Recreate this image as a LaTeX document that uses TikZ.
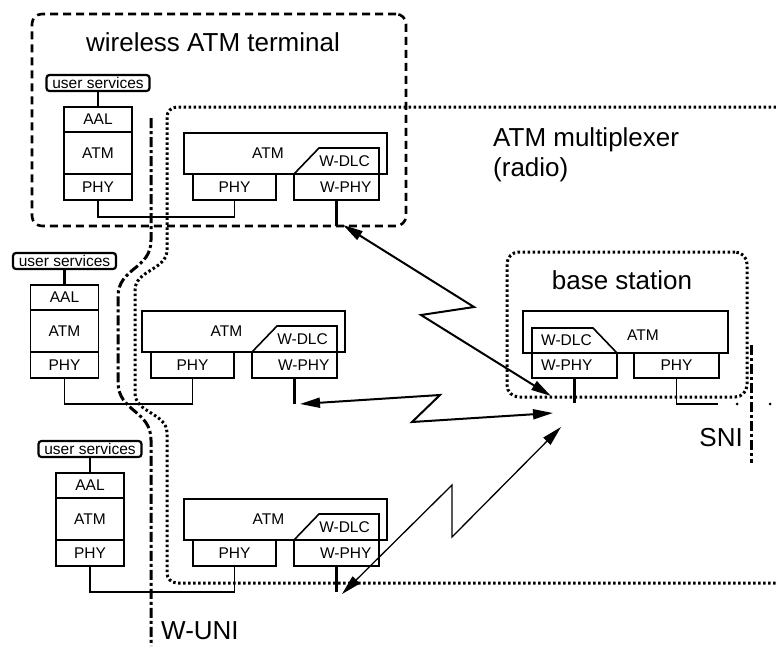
\documentclass[tikz,border=0pt]{standalone}
\usepackage{fontspec}
\setmainfont{Liberation Sans}
\usetikzlibrary{arrows.meta}
\newlength{\du}
\setlength{\du}{20\unitlength}
\tikzset{
  smalltext/.style={font=\fontsize{15.5}{18}\selectfont},
  bigtext/.style={font=\fontsize{26}{30}\selectfont, inner sep=0pt},
  layer/.style={draw=dialinecolor, rectangle, line width=1.6pt, inner sep=0pt, outer sep=0pt, smalltext},
  stackbox/.style={layer, minimum width=3.400000\du},
  wphyright/.style={layer, minimum height=1.300000\du, inner xsep=7.5pt, text width=70pt, align=right},
  wphyleft/.style={layer, minimum height=1.250000\du, inner xsep=9pt, text width=67pt, align=left},
  svcbox/.style={draw=dialinecolor, rounded corners=3pt, line width=2.2pt, minimum width=5.150000\du, minimum height=0.800000\du, inner sep=0pt, outer sep=0pt, smalltext},
  dlcline/.style={draw=dialinecolor, line width=1.6pt},
  conn/.style={draw=dialinecolor, line width=1.3pt},
  svcline/.style={draw=dialinecolor, line width=2.6pt},
  antenna/.style={draw=dialinecolor, line width=3pt},
  radio/.style={draw=dialinecolor, line width=2pt, arrows={Triangle[length=20pt,width=10pt]-Triangle[length=20pt,width=10pt]}},
  radiothin/.style={radio, line width=1.3pt},
  termarea/.style={draw=dialinecolor, rectangle, rounded corners=10pt, line width=2.6pt, dash pattern=on 8pt off 5pt, inner sep=0pt},
  dotline/.style={draw=dialinecolor, line width=3pt, dash pattern=on 2.5pt off 2.5pt},
  bsarea/.style={dotline, rectangle, rounded corners=12pt, inner sep=0pt},
  iface/.style={draw=dialinecolor, line width=3pt, dash pattern=on 10pt off 3pt on 3pt off 3pt},
}
\begin{document}
\begin{tikzpicture}
\pgftransformxscale{1.000000}
\pgftransformyscale{-1.000000}
\definecolor{dialinecolor}{rgb}{0.000000, 0.000000, 0.000000}
\pgfsetstrokecolor{dialinecolor}
\pgfsetbuttcap
\pgfsetmiterjoin
\useasboundingbox (0.000000\du,0.000000\du) rectangle (38.800000\du,32.300000\du);
% terminal
\node[termarea, minimum width=18.700000\du, minimum height=10.600000\du] (terminal) at (10.950000\du,6.000000\du) {};
\node[bigtext] (terminaltitle) at (10.650000\du,2.125000\du) {wireless ATM terminal};
% multiplexer
\draw[dotline, rounded corners=10pt] (38.800000\du,5.350000\du) -- (8.350000\du,5.350000\du) -- (8.350000\du,12.000000\du) .. controls (8.350000\du,13.500000\du) and (6.750000\du,13.500000\du) .. (6.750000\du,15.000000\du) -- (6.750000\du,19.150000\du) .. controls (6.750000\du,20.650000\du) and (8.350000\du,20.650000\du) .. (8.350000\du,22.150000\du) -- (8.350000\du,29.150000\du) -- (38.800000\du,29.150000\du);
\node[bigtext, anchor=north west, align=left] (muxtitle) at (24.650000\du,6.350000\du) {ATM multiplexer\\(radio)};
% W-UNI
\draw[iface] (7.550000\du,5.900000\du) -- (7.550000\du,12.000000\du) .. controls (7.550000\du,13.500000\du) and (5.900000\du,13.350000\du) .. (5.900000\du,14.850000\du) -- (5.900000\du,19.100000\du) .. controls (5.900000\du,20.600000\du) and (7.550000\du,20.500000\du) .. (7.550000\du,22.000000\du) -- (7.550000\du,32.300000\du);
\node[bigtext, anchor=west] (wuni) at (8.050000\du,31.550000\du) {W-UNI};
% stack 1
\node[svcbox] (t1svc) at (4.900000\du,4.150000\du) {user services};
\node[stackbox, minimum height=1.250000\du] (t1aal) at (4.900000\du,5.975000\du) {AAL};
\node[stackbox, minimum height=2.100000\du] (t1atm) at (4.900000\du,7.650000\du) {ATM};
\node[stackbox, minimum height=1.300000\du] (t1phy) at (4.900000\du,9.350000\du) {PHY};
\draw[svcline] (t1svc) -- (t1aal);
\node[layer, minimum width=10.150000\du, minimum height=2.050000\du] (m1atm) at (14.275000\du,7.675000\du) {};
\node[smalltext] (m1atmtext) at (13.400000\du,7.650000\du) {ATM};
\node[layer, minimum width=4.150000\du, minimum height=1.300000\du] (m1phy) at (11.725000\du,9.350000\du) {PHY};
\node[wphyright] (m1wphy) at (16.825000\du,9.350000\du) {W-PHY};
\draw[dlcline] (m1wphy.north west) -- ++(1.250000\du,-1.300000\du) -| (m1wphy.north east);
\node[smalltext, anchor=east, inner sep=0pt] (m1dlc) at (18.500000\du,8.050000\du) {W-DLC};
\coordinate (m1ant) at (16.825000\du,11.300000\du);
\draw[antenna] (m1wphy.south) -- (m1ant);
\draw[conn] (t1phy.south) -- ++(0,0.850000\du) -| (m1phy.south);
% stack 2
\node[svcbox] (t2svc) at (3.225000\du,13.050000\du) {user services};
\node[stackbox, minimum height=1.250000\du] (t2aal) at (3.225000\du,14.875000\du) {AAL};
\node[stackbox, minimum height=2.100000\du] (t2atm) at (3.225000\du,16.550000\du) {ATM};
\node[stackbox, minimum height=1.300000\du] (t2phy) at (3.225000\du,18.250000\du) {PHY};
\draw[svcline] (t2svc) -- (t2aal);
\node[layer, minimum width=10.150000\du, minimum height=2.050000\du] (m2atm) at (12.175000\du,16.575000\du) {};
\node[smalltext] (m2atmtext) at (11.325000\du,16.550000\du) {ATM};
\node[layer, minimum width=4.150000\du, minimum height=1.300000\du] (m2phy) at (9.625000\du,18.250000\du) {PHY};
\node[wphyright] (m2wphy) at (14.725000\du,18.250000\du) {W-PHY};
\draw[dlcline] (m2wphy.north west) -- ++(1.250000\du,-1.300000\du) -| (m2wphy.north east);
\node[smalltext, anchor=east, inner sep=0pt] (m2dlc) at (16.400000\du,16.950000\du) {W-DLC};
\coordinate (m2ant) at (14.725000\du,20.200000\du);
\draw[antenna] (m2wphy.south) -- (m2ant);
\draw[conn] (t2phy.south) -- ++(0,1.300000\du) -| (m2phy.south);
% stack 3
\node[svcbox] (t3svc) at (4.500000\du,22.450000\du) {user services};
\node[stackbox, minimum height=1.250000\du] (t3aal) at (4.500000\du,24.275000\du) {AAL};
\node[stackbox, minimum height=2.100000\du] (t3atm) at (4.500000\du,25.950000\du) {ATM};
\node[stackbox, minimum height=1.300000\du] (t3phy) at (4.500000\du,27.650000\du) {PHY};
\draw[svcline] (t3svc) -- (t3aal);
\node[layer, minimum width=10.150000\du, minimum height=2.050000\du] (m3atm) at (14.275000\du,25.975000\du) {};
\node[smalltext] (m3atmtext) at (13.425000\du,25.950000\du) {ATM};
\node[layer, minimum width=4.150000\du, minimum height=1.300000\du] (m3phy) at (11.725000\du,27.650000\du) {PHY};
\node[wphyright] (m3wphy) at (16.825000\du,27.650000\du) {W-PHY};
\draw[dlcline] (m3wphy.north west) -- ++(1.250000\du,-1.300000\du) -| (m3wphy.north east);
\node[smalltext, anchor=east, inner sep=0pt] (m3dlc) at (18.500000\du,26.350000\du) {W-DLC};
\coordinate (m3ant) at (16.825000\du,29.600000\du);
\draw[antenna] (m3wphy.south) -- (m3ant);
\draw[conn] (t3phy.south) -- ++(0,1.300000\du) -| (m3phy.south);
% base station
\node[bsarea, minimum width=12.000000\du, minimum height=7.250000\du] (bsarea) at (31.350000\du,16.225000\du) {};
\node[bigtext] (bstitle) at (31.100000\du,14.000000\du) {base station};
\node[layer, minimum width=10.250000\du, minimum height=2.100000\du] (bsatm) at (31.275000\du,16.600000\du) {};
\node[smalltext] (bsatmtext) at (32.150000\du,16.750000\du) {ATM};
\node[wphyleft] (bswphy) at (28.725000\du,18.275000\du) {W-PHY};
\node[layer, minimum width=4.250000\du, minimum height=1.250000\du] (bsphy) at (33.825000\du,18.275000\du) {PHY};
\draw[dlcline] (bswphy.north west) -- ++(0,-1.250000\du) -- ++(3.050000\du,0) -- (bswphy.north east);
\node[smalltext, anchor=west, inner sep=0pt] (bsdlc) at (27.050000\du,17.000000\du) {W-DLC};
\coordinate (bsant) at (28.725000\du,20.150000\du);
\draw[antenna] (bswphy.south) -- (bsant);
\coordinate (bsnet) at (35.900000\du,20.200000\du);
\draw[conn] (bsphy.south) |- (bsnet);
\fill[dialinecolor] (36.850000\du,20.200000\du) circle (1.5pt);
\fill[dialinecolor] (38.500000\du,20.200000\du) circle (1.5pt);
% SNI
\draw[iface] (37.550000\du,17.250000\du) -- (37.550000\du,23.150000\du);
\node[bigtext, anchor=east] (sni) at (37.150000\du,21.900000\du) {SNI};
% radio links
\coordinate (r1a) at (17.150000\du,11.250000\du);
\coordinate (r1b) at (27.550000\du,19.800000\du);
\draw[radio] (r1a) -- (23.700000\du,15.350000\du) -- (21.050000\du,15.750000\du) -- (r1b);
\coordinate (r2a) at (15.000000\du,20.200000\du);
\coordinate (r2b) at (27.650000\du,20.650000\du);
\draw[radio] (r2a) -- (22.000000\du,19.750000\du) -- (20.600000\du,21.100000\du) -- (r2b);
\coordinate (r3a) at (17.100000\du,29.700000\du);
\coordinate (r3b) at (28.050000\du,21.350000\du);
\draw[radiothin] (r3a) -- (22.600000\du,24.250000\du) -- (22.600000\du,26.850000\du) -- (r3b);
\end{tikzpicture}
\end{document}
